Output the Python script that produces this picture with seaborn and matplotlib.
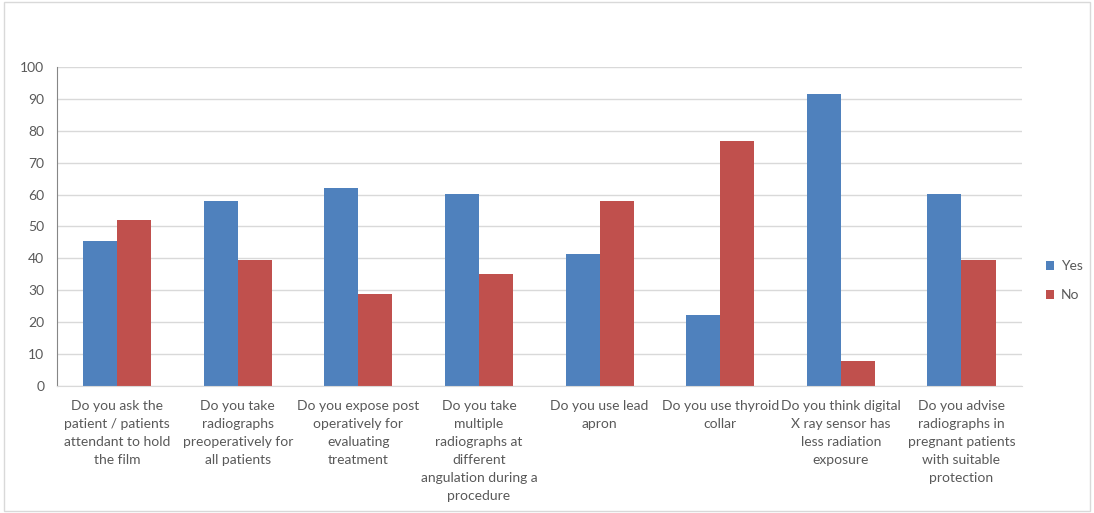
import matplotlib
matplotlib.use("Agg")
import matplotlib.pyplot as plt
import seaborn as sns
import pandas as pd
from matplotlib.patches import Rectangle

questions = [
    "Do you ask the\npatient / patients\nattendant to hold\nthe film",
    "Do you take\nradiographs\npreoperatively for\nall patients",
    "Do you expose post\noperatively for\nevaluating\ntreatment",
    "Do you take\nmultiple\nradiographs at\ndifferent\nangulation during a\nprocedure",
    "Do you use lead\napron",
    "Do you use thyroid\ncollar",
    "Do you think digital\nX ray sensor has\nless radiation\nexposure",
    "Do you advise\nradiographs in\npregnant patients\nwith suitable\nprotection",
]
yes_vals = [45.5, 58, 62.2, 60.2, 41.3, 22.4, 91.4, 60.3]
no_vals = [52, 39.5, 28.7, 35, 57.9, 76.9, 7.9, 39.5]
series = ["Yes", "No"]
colors = ["#4F81BD", "#C0504D"]

df = pd.DataFrame({
    "question": questions * 2,
    "answer": ["Yes"] * len(questions) + ["No"] * len(questions),
    "value": yes_vals + no_vals,
})

sns.set_style("white")
plt.rcParams['font.family'] = ['Lato', 'DejaVu Sans']
text_col = "#595959"

fig = plt.figure(figsize=(10.94, 5.13), dpi=100)
ax = fig.add_axes([0.052, 0.2476, 0.882, 0.6218])

sns.barplot(data=df, x="question", y="value", hue="answer", hue_order=series,
            palette=colors, width=0.565, saturation=1, ax=ax, errorbar=None,
            linewidth=0)

ax.set_ylim(0, 100)
ax.set_yticks(range(0, 101, 10))
ax.set_xlim(-0.5, len(questions) - 0.5)
ax.yaxis.grid(True, color="#D9D9D9", linewidth=1)
ax.set_axisbelow(True)
ax.set_xlabel("")
ax.set_ylabel("")
for s in ["top", "right"]:
    ax.spines[s].set_visible(False)
ax.spines["left"].set_color("#868686")
ax.spines["bottom"].set_color("#D9D9D9")
ax.tick_params(axis="both", length=0, colors=text_col, labelsize=10)
ax.tick_params(axis="y", pad=9)
ax.set_xticks(range(len(questions)))
ax.set_xticklabels(questions, linespacing=1.6, va="top")
ax.tick_params(axis="x", pad=10)

handles, labels = ax.get_legend_handles_labels()
leg = ax.legend(handles, labels, loc="center left", bbox_to_anchor=(1.012, 0.33),
                frameon=False, fontsize=10, handlelength=0.6, handleheight=0.6,
                labelspacing=1.25, handletextpad=0.5)
for t in leg.get_texts():
    t.set_color(text_col)

fig.patches.append(Rectangle((0.004, 0.004), 0.992, 0.992, transform=fig.transFigure,
                             fill=False, edgecolor="#D9D9D9", linewidth=1))

fig.savefig("out.png", dpi=100)
